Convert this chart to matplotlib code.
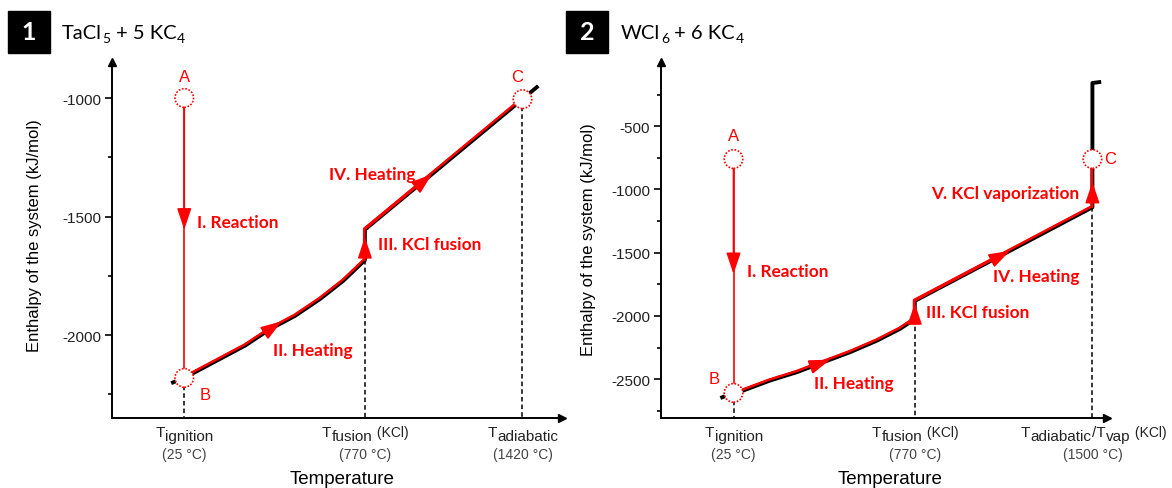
import numpy as np
import matplotlib.pyplot as plt
from matplotlib.transforms import IdentityTransform, offset_copy
from matplotlib.patches import Rectangle

plt.rcParams['font.family'] = ['Liberation Sans', 'DejaVu Sans']
plt.rcParams['axes.unicode_minus'] = False

RED = '#ff0000'

# ---- panel 1 : TaCl5 + 5 KC4 ----
p1_T = [-29, 25, 69, 172, 275, 379, 482, 585, 681, 770, 770, 1047, 1420, 1485]
p1_H = [-2203, -2181, -2157, -2101, -2045, -1975, -1919, -1848, -1771, -1684,
        -1555, -1321, -1005, -949]
p1_A = (25, -1000)
p1_B = (25, -2181)
p1_C = (1420, -1005)
p1_dash_T = [25, 770, 1420]
p1_dash_H = [-2181, -1684, -1005]
p1_arrows = [((25, -1000), (25, -1555)),
             ((379, -1975), (427, -1942)),
             ((770, -1684), (770, -1587)),
             ((770, -1555), (1047, -1321))]
p1_major = [-2000, -1500, -1000]
p1_minor = [-2250, -1750, -1250]
p1_xlabels = [[('T', 'n'), ('ignition', 's')],
              [('T', 'n'), ('fusion', 's'), (' (KCl)', 'p')],
              [('T', 'n'), ('adiabatic', 's')]]
p1_temps = ['(25 °C)', '(770 °C)', '(1420 °C)']

# ---- panel 2 : WCl6 + 6 KC4 ----
p2_T = [-29, 25, 65, 175, 285, 394, 504, 614, 709, 770, 770, 1161, 1500, 1500, 1536]
p2_H = [-2648, -2608, -2589, -2510, -2444, -2365, -2286, -2195, -2102, -2024,
        -1881, -1485, -1141, -159, -150]
p2_A = (25, -760)
p2_B = (25, -2608)
p2_C = (1500, -760)
p2_dash_T = [25, 770, 1500]
p2_dash_H = [-2608, -2024, -1141]
p2_arrows = [((25, -760), (25, -1668)),
             ((394, -2365), (422, -2345)),
             ((770, -2024), (770, -1900)),
             ((770, -1881), (1161, -1485)),
             ((1500, -1141), (1500, -941))]
p2_major = [-2500, -2000, -1500, -1000, -500]
p2_minor = [-2750, -2250, -1750, -1250, -750, -250]
p2_xlabels = [[('T', 'n'), ('ignition', 's')],
              [('T', 'n'), ('fusion', 's'), (' (KCl)', 'p')],
              [('T', 'n'), ('adiabatic', 's'), ('/T', 'n'), ('vap', 's'), (' (KCl)', 'p')]]
p2_temps = ['(25 °C)', '(770 °C)', '(1500 °C)']

W, HPX = 1172, 489
fig = plt.figure(figsize=(11.72, 4.89), dpi=100)


def fx(x):
    return x / W


def fy(y):
    return 1 - y / HPX


ax1 = fig.add_axes([fx(112), fy(419), fx(562) - fx(112), fy(63) - fy(419)])
ax2 = fig.add_axes([fx(661), fy(419), fx(1107) - fx(661), fy(63) - fy(419)])


def frame(ax, xlim, ylim, major, minor):
    ax.set_xlim(xlim)
    ax.set_ylim(ylim)
    ax.patch.set_alpha(0)
    for s in ['top', 'right']:
        ax.spines[s].set_visible(False)
    for s in ['left', 'bottom']:
        ax.spines[s].set_linewidth(1.4)
    ax.set_xticks([])
    ax.set_yticks(major)
    ax.set_yticks(minor, minor=True)
    ax.tick_params(axis='y', which='major', length=5, width=1.2,
                   labelsize=11, labelcolor='#222222', pad=3)
    ax.tick_params(axis='y', which='minor', length=3, width=1.2)
    ax.plot(1, 0, '>k', ms=6, transform=ax.transAxes, clip_on=False)
    ax.plot(0, 1, '^k', ms=6, transform=ax.transAxes, clip_on=False)


def draw(ax, T, H, red_T, red_H, A, B, C, dT, dH, arrows):
    ybot = ax.get_ylim()[0]
    for t, h in zip(dT, dH):
        ax.plot([t, t], [h, ybot], color='black', lw=1.1, ls=(0, (3, 2)), zorder=1)
    ax.plot(T, H, color='black', lw=2.8, zorder=2, solid_capstyle='butt')
    # red path sits slightly above the black one
    shifted = offset_copy(ax.transData, fig=fig, x=-0.6, y=1.0, units='dots')
    ax.plot(red_T, red_H, color=RED, lw=1.8, zorder=3, transform=shifted)
    ax.plot([A[0], B[0]], [A[1], B[1]], color=RED, lw=1.2, zorder=3)
    for tail, tip in arrows:
        ax.annotate('', xy=tip, xytext=tail, zorder=5,
                    arrowprops=dict(arrowstyle='-|>,head_length=0.65,head_width=0.22',
                                    color=RED, lw=1.2, mutation_scale=20,
                                    shrinkA=0, shrinkB=0))
    for p in (A, B, C):
        ax.scatter([p[0]], [p[1]], s=180, facecolors='white', edgecolors=RED,
                   linewidths=1.2, linestyles=(0, (1, 1)), zorder=6, clip_on=False)


frame(ax1, (-273, 1583), (-2350, -848), p1_major, p1_minor)
frame(ax2, (-273, 1560), (-2806, 7), p2_major, p2_minor)

draw(ax1, p1_T, p1_H, p1_T[1:13], p1_H[1:13], p1_A, p1_B, p1_C,
     p1_dash_T, p1_dash_H, p1_arrows)
draw(ax2, p2_T, p2_H, p2_T[1:13] + [p2_C[0]], p2_H[1:13] + [p2_C[1]],
     p2_A, p2_B, p2_C, p2_dash_T, p2_dash_H, p2_arrows)

renderer = fig.canvas.get_renderer()


def rich(parts, x, y, ha='center'):
    # parts: (text, size, dy_px down, kwargs); x,y in pixels, y from top
    items = []
    for s, size, dy, kw in parts:
        t = fig.text(0, 0, s, fontsize=size, va='baseline', ha='left',
                     transform=IdentityTransform(), **kw)
        items.append((t, dy))
    widths = [t.get_window_extent(renderer).width for t, _ in items]
    x0 = x - sum(widths) / 2 if ha == 'center' else x
    for (t, dy), w in zip(items, widths):
        t.set_position((x0, HPX - (y + dy)))
        x0 += w + 0.5


KIND = {'n': (11, 0), 's': (11, 4), 'p': (10, 0)}


def xlabels(ax, xs, labels, temps):
    for x, lab, tmp in zip(xs, labels, temps):
        xd = ax.transData.transform((x, 0))[0]
        parts = [(s, KIND[k][0], KIND[k][1], {'color': '#222222'}) for s, k in lab]
        rich(parts, xd, 437)
        fig.text(xd, HPX - 459, tmp, fontsize=10, color='#444444', ha='center',
                 va='baseline', transform=IdentityTransform())


xlabels(ax1, p1_dash_T, p1_xlabels, p1_temps)
xlabels(ax2, p2_dash_T, p2_xlabels, p2_temps)

# axis titles
for xc in (342, 890):
    fig.text(fx(xc), fy(484), 'Temperature', fontsize=13.5, ha='center', va='baseline')
fig.text(fx(35), fy(236), 'Enthalpy of the system (kJ/mol)', fontsize=12,
         rotation=90, ha='center', va='center')
fig.text(fx(588), fy(240), 'Enthalpy of the system (kJ/mol)', fontsize=12,
         rotation=90, ha='center', va='center')

# point letters
letters = [('A', 185, 78), ('B', 205, 395), ('C', 517, 78),
           ('A', 734, 137), ('B', 714, 380), ('C', 1110, 160)]
for s, x, y in letters:
    fig.text(fx(x), fy(y), s, color=RED, fontsize=12, ha='center', va='center')

# step labels
steps = [('I. Reaction', 197, 223), ('II. Heating', 273, 351),
         ('III. KCl fusion', 378, 245), ('IV. Heating', 329, 175),
         ('I. Reaction', 747, 272), ('II. Heating', 814, 384),
         ('III. KCl fusion', 926, 313), ('IV. Heating', 993, 277),
         ('V. KCl vaporization', 931, 194)]
for s, x, y in steps:
    fig.text(fx(x), fy(y), s, color=RED, fontsize=12.4, fontweight='bold',
             family='Lato', ha='left', va='center')

# panel badges and titles
for num, bx, tx, formula in [('1', 8, 62, [('TaCl', 'n'), ('5', 's'), (' + 5 KC', 'n'), ('4', 's')]),
                             ('2', 566, 621, [('WCl', 'n'), ('6', 's'), (' + 6 KC', 'n'), ('4', 's')])]:
    fig.patches.append(Rectangle((fx(bx), fy(54)), fx(42), fy(12) - fy(54),
                                 transform=fig.transFigure, color='black'))
    fig.text(fx(bx + 21), fy(33), num, color='white', fontsize=18, fontweight='bold',
             family='Lato', ha='center', va='center')
    parts = [(s, 14.5, 0, {'family': 'Lato'}) if k == 'n'
             else (s, 10, 4, {'family': 'Lato'}) for s, k in formula]
    rich(parts, tx, 39, ha='left')

fig.savefig('out.png', dpi=100)
